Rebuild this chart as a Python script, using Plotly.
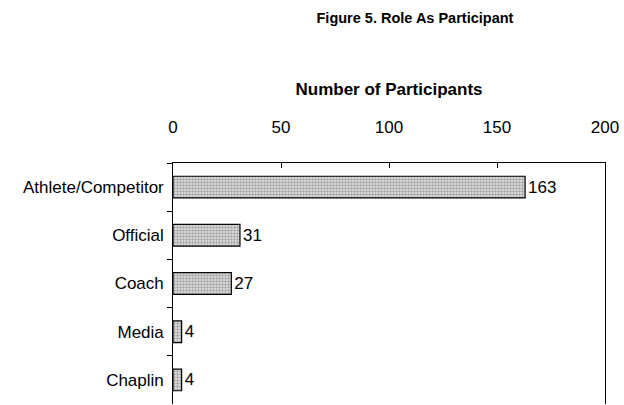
import plotly.graph_objects as go

categories = ["Athlete/Competitor", "Official", "Coach", "Media", "Chaplin"]
values = [163, 31, 27, 4, 4]
tick_vals = [0, 50, 100, 150, 200]

FONT = "Liberation Sans, Arial, sans-serif"

fig = go.Figure()
fig.add_trace(go.Bar(
    y=categories, x=values, orientation="h",
    width=0.45,
    marker=dict(color="#c8c8c8",
                line=dict(color="black", width=1.2),
                pattern=dict(shape=".", fgcolor="#555555", bgcolor="#d8d8d8", size=3, solidity=0.4)),
    text=[str(v) for v in values], textposition="outside",
    textfont=dict(family=FONT, size=17, color="black"),
    cliponaxis=False,
))

fig.update_layout(
    width=624, height=405,
    margin=dict(l=173, r=19, t=163, b=1),
    paper_bgcolor="white", plot_bgcolor="white",
    showlegend=False,
    font=dict(family=FONT, color="black"),
    title=dict(text="<b>Figure 5. Role As Participant</b>", x=0.665, xanchor="center",
               y=0.955, yanchor="middle", font=dict(family=FONT, size=14.5, color="black")),
    xaxis=dict(side="top", range=[0, 200], tickvals=tick_vals, automargin=False,
               showline=True, linecolor="black", linewidth=1.2,
               ticks="inside", ticklen=5, tickcolor="black",
               ticklabelstandoff=22,
               showgrid=False, zeroline=False,
               tickfont=dict(family=FONT, size=17, color="black"),
               title=dict(text="<b>Number of Participants</b>", standoff=18,
                          font=dict(family=FONT, size=17, color="black"))),
    yaxis=dict(autorange="reversed", showline=True, linecolor="black", linewidth=1.2,
               mirror=True, ticks="outside", ticklen=5, tickcolor="black", automargin=False,
               tickson="boundaries", showgrid=False,
               tickfont=dict(family=FONT, size=17, color="black"), ticksuffix=" "),
)

fig.write_html("out.html", config={"displayModeBar": False},
               post_script="document.body.style.margin='0';document.body.style.overflow='hidden';")
